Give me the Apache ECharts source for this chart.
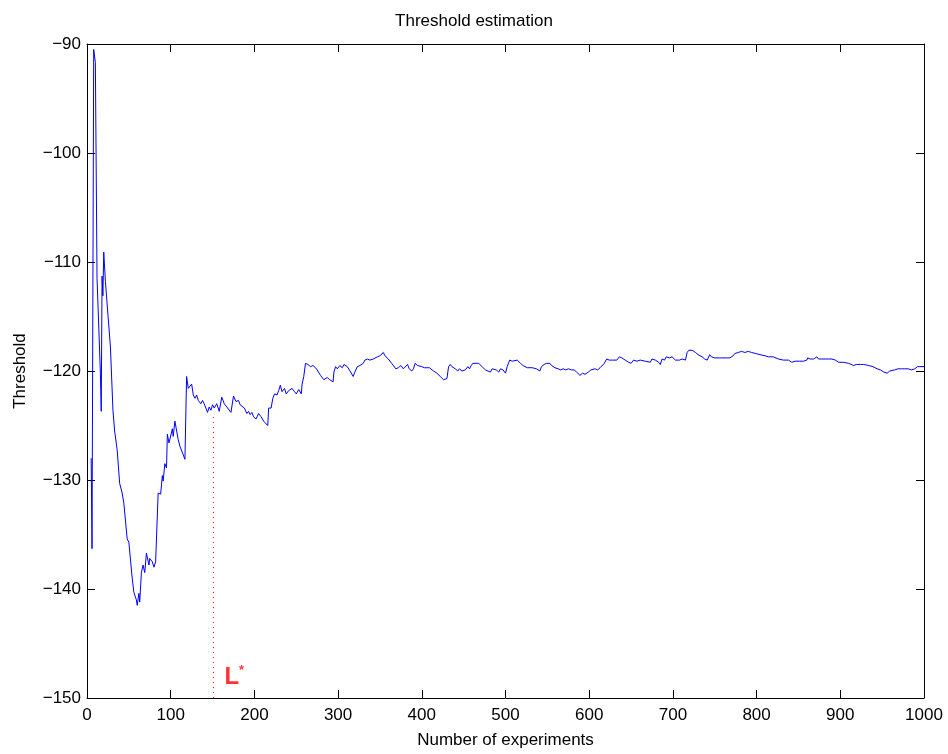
<!DOCTYPE html>
<html>
<head>
    <meta charset="UTF-8">
    <title>Threshold estimation</title>
    <script src="https://cdn.jsdelivr.net/npm/echarts/dist/echarts.min.js"></script>
    <style>
        body { margin: 0; background: #fff; }
        #main { width: 948px; height: 754px; }
    </style>
</head>
<body>
    <div id="main"></div>
    <script>
        var xs = [5, 6, 8, 10, 12, 16, 17, 18, 19, 20, 22, 28, 31, 33, 36, 39, 42, 44, 48, 50,
            54, 56, 59, 60, 62, 63, 65, 67, 69, 71, 74, 75, 78, 80, 82, 84, 85, 88, 90, 91,
            93, 95, 96, 98, 102, 103, 105, 109, 111, 117, 119, 121, 125, 127, 129, 131, 133, 136, 138, 140,
            144, 146, 148, 150, 152, 155, 158, 161, 164, 167, 169, 172, 175, 178, 181, 183, 185, 188, 191, 193,
            195, 197, 199, 202, 205, 208, 211, 216, 217, 220, 222, 224, 227, 229, 231, 233, 236, 238, 241, 245,
            248, 250, 253, 256, 257, 259, 261, 264, 267, 270, 273, 275, 279, 283, 287, 290, 294, 295, 297, 299,
            302, 305, 307, 311, 315, 318, 320, 323, 326, 328, 330, 332, 335, 338, 342, 344, 347, 350, 354, 356,
            360, 364, 369, 372, 375, 378, 380, 383, 385, 388, 390, 392, 395, 397, 400, 403, 406, 409, 414, 418,
            422, 426, 428, 430, 432, 434, 436, 440, 443, 445, 448, 452, 455, 457, 459, 461, 465, 468, 472, 476,
            478, 482, 484, 486, 489, 492, 494, 497, 500, 502, 505, 508, 510, 514, 518, 521, 526, 528, 532, 534,
            537, 541, 543, 546, 549, 553, 555, 559, 563, 566, 569, 572, 575, 579, 582, 585, 589, 592, 595, 599,
            602, 604, 607, 610, 613, 615, 618, 621, 624, 628, 633, 636, 639, 643, 647, 650, 653, 657, 661, 667,
            673, 675, 679, 683, 685, 687, 690, 692, 696, 699, 703, 705, 708, 711, 715, 717, 719, 723, 727, 730,
            735, 738, 741, 744, 746, 750, 754, 758, 764, 768, 772, 774, 778, 782, 786, 790, 794, 799, 804, 810,
            814, 820, 826, 832, 838, 842, 846, 851, 856, 860, 861, 864, 868, 872, 874, 878, 882, 886, 890, 894,
            898, 904, 910, 916, 919, 924, 928, 934, 939, 944, 948, 952, 956, 959, 961, 965, 969, 973, 977, 981,
            985, 989, 992, 995, 1000];
        var ys = [-128, -136.3, -90.5, -91.7, -111.5, -120.2, -123.7, -111.3, -113.1, -109.1, -111.8, -117.8, -123.6, -125.5, -127.2, -130.3, -131.2, -132.1, -135.4, -135.7,
            -139, -140.3, -141, -141.5, -140.4, -141.2, -138.5, -137.8, -138.5, -136.7, -137.8, -137.2, -137.5, -138, -137.5, -137.6, -131.2, -131.3, -129.6, -130.1,
            -128.5, -128.9, -125.8, -126.6, -125.3, -126, -124.6, -126.3, -126.9, -128.1, -120.5, -121.6, -121.2, -122.2, -122.5, -122.2, -122.7, -123, -122.7, -123,
            -123.8, -123.3, -123.6, -123.1, -123.4, -123, -123.7, -122.4, -123, -123.3, -123.4, -123.8, -122.3, -122.8, -122.7, -123.1, -123, -123.4, -123.9, -123.7,
            -124, -123.8, -124.2, -124.4, -123.9, -124.2, -124.6, -125, -123.4, -123.4, -122.5, -122.1, -122.2, -121.8, -121.3, -121.9, -121.6, -122.1, -121.8, -121.6,
            -121.9, -122.1, -121.7, -122.1, -121.2, -120.5, -119.3, -119.4, -119.6, -119.5, -119.7, -119.9, -120.4, -120.8, -120.6, -120.8, -121, -120.1, -119.6, -119.8,
            -119.5, -119.7, -119.4, -119.6, -120.1, -120.5, -120.1, -119.6, -119.5, -119.5, -119.3, -119, -118.9, -119, -118.9, -118.8, -118.7, -118.6, -118.3, -118.6,
            -118.9, -119.3, -119.8, -119.7, -119.5, -119.8, -119.9, -119.4, -119.8, -120, -119.8, -119.3, -119.5, -119.6, -119.6, -119.7, -119.7, -119.7, -120, -120.2,
            -120.5, -120.8, -120.7, -120.7, -119.6, -119.4, -119.6, -119.8, -120, -119.8, -120, -119.9, -119.6, -119.8, -119.5, -119.3, -119.3, -119.3, -119.6, -119.9,
            -120, -120.1, -119.8, -119.9, -119.9, -120.1, -119.8, -119.9, -120.2, -119.6, -119, -119.1, -119, -119, -119.3, -119.5, -119.7, -119.6, -119.7, -119.7,
            -119.8, -120, -119.6, -119.4, -119.3, -119.3, -119.5, -119.7, -119.8, -119.9, -119.8, -119.9, -119.8, -119.9, -119.9, -120.1, -120.4, -120.2, -120.3, -120.1,
            -119.9, -120, -119.8, -119.9, -119.7, -119.8, -119.3, -118.9, -119, -119, -119, -118.7, -118.8, -119, -119.2, -119.3, -119, -119.1, -119, -119.1,
            -119.2, -118.9, -119, -119.2, -119.4, -118.9, -119, -118.7, -118.8, -118.7, -119, -118.9, -119, -118.9, -119, -118.3, -118.1, -118.1, -118.3, -118.5,
            -118.7, -118.9, -119, -118.5, -118.7, -118.8, -118.8, -118.8, -118.8, -118.8, -118.6, -118.4, -118.3, -118.2, -118.3, -118.2, -118.3, -118.4, -118.5, -118.6,
            -118.7, -118.7, -118.9, -119, -119, -119.2, -119.1, -119.1, -119.1, -119, -118.8, -118.9, -118.9, -118.7, -118.9, -118.9, -118.9, -118.9, -118.9, -119,
            -119.2, -119.2, -119.3, -119.5, -119.4, -119.4, -119.4, -119.5, -119.6, -119.8, -119.9, -120.1, -120.2, -120, -119.9, -119.9, -119.8, -119.8, -119.8, -119.8,
            -119.9, -119.8, -119.6, -119.6, -119.6];

        // L* marker: dotted drop line and its label position
        var lStarX = 151;
        var lStarTop = -123.9;
        var lStarLabelAt = [176, -148.1];

        var xTicks = { min: 0, max: 1000, step: 100 };
        var yTicks = { min: -150, max: -90, step: 10 };

        var chart = echarts.init(document.getElementById('main'));

        var pts = xs.map(function (x, i) { return [x, ys[i]]; });
        var plain = function (v) { return String(v).replace('-', '\u2212'); };
        var font = 'Liberation Sans, Arial, sans-serif';
        var tick = { show: true, inside: true, length: 8, lineStyle: { color: '#000' } };
        var line = { show: true, onZero: false, lineStyle: { color: '#000', width: 1 } };

        var option = {
            backgroundColor: '#fff',
            animation: false,
            title: {
                text: 'Threshold estimation',
                left: 'center',
                top: 8,
                textStyle: { fontFamily: font, fontSize: 17, fontWeight: 'normal', color: '#000' }
            },
            grid: { left: 87, right: 24, top: 44, bottom: 50, containLabel: false },
            xAxis: [{
                type: 'value', min: xTicks.min, max: xTicks.max, interval: xTicks.step,
                name: 'Number of experiments', nameLocation: 'middle', nameGap: 34,
                nameTextStyle: { fontFamily: font, fontSize: 17, color: '#000' },
                axisLine: line, axisTick: tick, splitLine: { show: false },
                axisLabel: { fontFamily: font, fontSize: 17, color: '#000', margin: 9, formatter: plain }
            }, {
                type: 'value', position: 'top', min: xTicks.min, max: xTicks.max, interval: xTicks.step,
                axisLine: line, axisTick: tick, splitLine: { show: false }, axisLabel: { show: false }
            }],
            yAxis: [{
                type: 'value', min: yTicks.min, max: yTicks.max, interval: yTicks.step,
                name: 'Threshold', nameLocation: 'middle', nameGap: 58,
                nameTextStyle: { fontFamily: font, fontSize: 17, color: '#000' },
                axisLine: line, axisTick: tick, splitLine: { show: false },
                axisLabel: { fontFamily: font, fontSize: 17, color: '#000', margin: 6, formatter: plain }
            }, {
                type: 'value', position: 'right', min: yTicks.min, max: yTicks.max, interval: yTicks.step,
                axisLine: line, axisTick: tick, splitLine: { show: false }, axisLabel: { show: false }
            }],
            series: [{
                type: 'line',
                data: pts,
                showSymbol: false,
                lineStyle: { color: '#0000ff', width: 1 },
                z: 3
            }, {
                type: 'line',
                data: [[lStarX, yTicks.min], [lStarX, lStarTop]],
                showSymbol: false,
                lineStyle: { color: '#ff0000', width: 1, type: [1, 4] },
                z: 2
            }, {
                type: 'scatter',
                data: [lStarLabelAt],
                symbolSize: 0,
                label: {
                    show: true,
                    position: 'inside',
                    formatter: '{l|L}{s|*}',
                    rich: {
                        l: { fontFamily: font, fontSize: 24, fontWeight: 'bold', color: '#ff0000', lineHeight: 26 },
                        s: { fontFamily: font, fontSize: 13, fontWeight: 'bold', color: '#ff0000', verticalAlign: 'top', lineHeight: 26 }
                    }
                }
            }]
        };

        chart.setOption(option);
    </script>
</body>
</html>
